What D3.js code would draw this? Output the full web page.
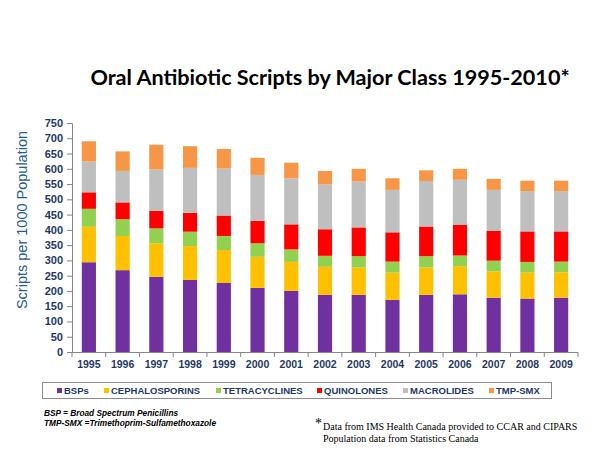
<!DOCTYPE html>
<html>
<head>
<meta charset="utf-8">
<script src="https://cdn.jsdelivr.net/npm/d3@7"></script>
<style>
  html, body { margin: 0; padding: 0; background: #fff; }
  svg { display: block; }
</style>
</head>
<body>
<svg id="chart" width="600" height="450"></svg>
<script>
const years = ["1995","1996","1997","1998","1999","2000","2001","2002","2003","2004","2005","2006","2007","2008","2009"];
const seriesNames = ["BSPs","CEPHALOSPORINS","TETRACYCLINES","QUINOLONES","MACROLIDES","TMP-SMX"];
const bsps           = [294, 268, 246, 236, 226, 210, 200, 187, 187, 171, 187, 189, 178, 175, 178];
const cephalosporins = [116, 112, 110, 111, 108, 102,  95,  92,  90,  89,  90,  92,  86,  85,  83];
const tetracyclines  = [ 59,  55,  49,  47,  46,  44,  41,  36,  37,  36,  37,  35,  35,  35,  35];
const quinolones     = [ 54,  55,  57,  62,  67,  74,  82,  87,  94,  96,  97, 101,  98, 100,  99];
const macrolides     = [101, 103, 136, 147, 154, 150, 151, 147, 150, 139, 149, 147, 134, 132, 132];
const tmpSmx         = [ 66,  64,  81,  71,  64,  56,  51,  44,  42,  38,  35,  36,  36,  34,  34];
const yTicks = [0,50,100,150,200,250,300,350,400,450,500,550,600,650,700,750];
const colors = ["#7030A0","#FFC000","#92D050","#FF0000","#BFBFBF","#F79646"];

const seriesValues = [bsps, cephalosporins, tetracyclines, quinolones, macrolides, tmpSmx];
const table = years.map((yr, i) => {
  const row = { year: yr };
  seriesNames.forEach((s, k) => row[s] = seriesValues[k][i]);
  return row;
});

const svg = d3.select("#chart");
svg.append("rect").attr("width", 600).attr("height", 450).attr("fill", "#fff");

const plotLeft = 72, plotRight = 578, plotTop = 123, plotBottom = 352;
const x = d3.scaleBand().domain(years).range([plotLeft, plotRight]).paddingInner(0.58).paddingOuter(0.29);
const y = d3.scaleLinear().domain([0, 750]).range([plotBottom, plotTop]);

const stack = d3.stack().keys(seriesNames)(table);
const color = d3.scaleOrdinal().domain(seriesNames).range(colors);

svg.append("g").selectAll("g").data(stack).join("g")
  .attr("fill", d => color(d.key))
  .selectAll("rect").data(d => d).join("rect")
  .attr("x", d => x(d.data.year))
  .attr("width", x.bandwidth())
  .attr("y", d => y(d[1]))
  .attr("height", d => y(d[0]) - y(d[1]));

const navy = "#1F3864";

// Y axis
const yAxis = svg.append("g").attr("transform", `translate(${plotLeft},0)`)
  .call(d3.axisLeft(y).tickValues(yTicks).tickSize(5).tickPadding(4));
yAxis.select(".domain").attr("stroke", "#868686");
yAxis.selectAll(".tick line").attr("stroke", "#868686");
yAxis.selectAll("text").attr("fill", navy)
  .style("font-family", "Arial, 'Liberation Sans', sans-serif")
  .style("font-weight", "bold").style("font-size", "11px");

// X axis
const xAxis = svg.append("g").attr("transform", `translate(0,${plotBottom})`)
  .call(d3.axisBottom(x).tickSize(0).tickPadding(9));
xAxis.select(".domain").attr("stroke", "#868686").attr("d", `M${plotLeft},0.5H${plotRight}`);
xAxis.selectAll("text").attr("fill", navy)
  .style("font-family", "Arial, 'Liberation Sans', sans-serif")
  .style("font-weight", "bold").style("font-size", "10.5px");
const bounds = years.map(yr => x(yr) - x.step() * x.paddingInner() / 2).concat([plotRight]);
xAxis.append("g").selectAll("line").data(bounds).join("line")
  .attr("x1", d => d).attr("x2", d => d).attr("y1", 0).attr("y2", 5)
  .attr("stroke", "#868686");

// Y title
svg.append("text")
  .attr("transform", "translate(27,220) rotate(-90)")
  .attr("text-anchor", "middle")
  .attr("fill", "#1F5C99")
  .style("font-family", "Arial, 'Liberation Sans', sans-serif")
  .style("font-size", "14.5px")
  .text("Scripts per 1000 Population");

// Title
svg.append("text")
  .attr("x", 330).attr("y", 85)
  .attr("text-anchor", "middle")
  .attr("fill", "#000")
  .style("font-family", "Lato, 'Open Sans', sans-serif")
  .style("font-weight", "bold").style("font-size", "21.6px")
  .text("Oral Antibiotic Scripts by Major Class 1995-2010*");

// Legend
svg.append("rect").attr("x", 42.5).attr("y", 382.5).attr("width", 509).attr("height", 16)
  .attr("fill", "#fff").attr("stroke", "#8C8C8C");
const legendX = [57, 104, 216, 317, 403, 489];
const lg = svg.append("g").selectAll("g").data(seriesNames).join("g")
  .attr("transform", (d, i) => `translate(${legendX[i]},390.5)`);
lg.append("rect").attr("x", 0).attr("y", -2.5).attr("width", 5).attr("height", 5)
  .attr("fill", d => color(d));
lg.append("text").attr("x", 7).attr("y", 3.5)
  .attr("fill", navy)
  .style("font-family", "Arial, 'Liberation Sans', sans-serif")
  .style("font-weight", "bold").style("font-size", "9.5px")
  .text(d => d);

// Left footnotes
const fnLeft = ["BSP = Broad Spectrum Penicillins", "TMP-SMX =Trimethoprim-Sulfamethoxazole"];
svg.append("g").selectAll("text").data(fnLeft).join("text")
  .attr("x", 44).attr("y", (d, i) => 416 + i * 10)
  .attr("fill", "#000")
  .style("font-family", "Arial, 'Liberation Sans', sans-serif")
  .style("font-weight", "bold").style("font-style", "italic").style("font-size", "8.3px")
  .text(d => d);

// Right footnotes
svg.append("text").attr("x", 315).attr("y", 428)
  .attr("fill", "#000")
  .style("font-family", "'Liberation Serif', 'Times New Roman', serif")
  .style("font-size", "14px")
  .text("*");
const fnRight = ["Data from IMS Health Canada provided to CCAR and CIPARS", "Population data from Statistics Canada"];
svg.append("g").selectAll("text").data(fnRight).join("text")
  .attr("x", 323).attr("y", (d, i) => 430 + i * 12)
  .attr("fill", "#000")
  .style("font-family", "'Liberation Serif', 'Times New Roman', serif")
  .style("font-size", "10px")
  .text(d => d);
</script>
</body>
</html>
